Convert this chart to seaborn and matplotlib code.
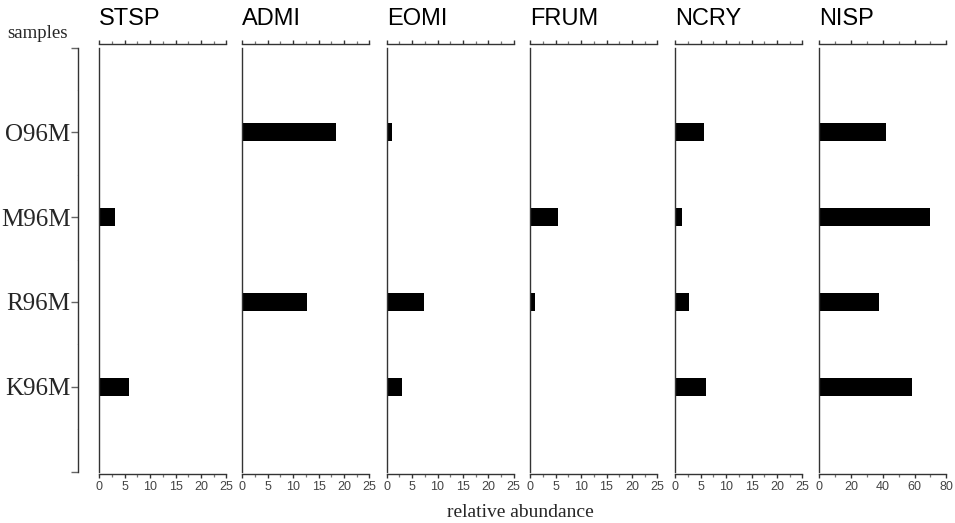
import matplotlib
matplotlib.use("Agg")
import matplotlib.pyplot as plt
import seaborn as sns
import pandas as pd
from matplotlib.ticker import MultipleLocator

samples = ["O96M", "M96M", "R96M", "K96M"]
taxa = ["STSP", "ADMI", "EOMI", "FRUM", "NCRY", "NISP"]
STSP = [0, 3.0, 0, 5.9]
ADMI = [18.4, 0, 12.8, 0]
EOMI = [1.0, 0, 7.3, 3.0]
FRUM = [0, 5.4, 1.0, 0]
NCRY = [5.6, 1.4, 2.7, 6.0]
NISP = [41.9, 69.9, 37.5, 58.7]
xmax = [25, 25, 25, 25, 25, 80]
major_step = [5, 5, 5, 5, 5, 20]

df = pd.DataFrame({"sample": samples, "STSP": STSP, "ADMI": ADMI, "EOMI": EOMI,
                   "FRUM": FRUM, "NCRY": NCRY, "NISP": NISP})

sns.set_style("ticks")
plt.rcParams["font.family"] = ["Liberation Sans", "DejaVu Sans"]

W, H = 955, 523
fig = plt.figure(figsize=(W / 100, H / 100), dpi=100)

top_px, bot_px = 44, 474
y0_px, step_px = 132.3, 84.8
ylim_top = (top_px - y0_px) / step_px
ylim_bot = (bot_px - y0_px) / step_px

def box(left_px, width_px):
    return [left_px / W, 1 - bot_px / H, width_px / W, (bot_px - top_px) / H]

lefts = [99.3, 242.3, 386.7, 530.3, 675.3, 819.3]
spine_col = "#333333"

for i, t in enumerate(taxa):
    ax = fig.add_axes(box(lefts[i], 127))
    sns.barplot(data=df, x=t, y="sample", order=samples, orient="h", color="black",
                width=0.21, linewidth=0, saturation=1, errorbar=None, ax=ax)
    ax.set_ylim(ylim_bot, ylim_top)
    ax.set_xlim(0, xmax[i])
    ax.set_xlabel("")
    ax.set_ylabel("")
    ax.set_yticks([])
    ax.spines["right"].set_visible(False)
    for s in ["left", "top", "bottom"]:
        ax.spines[s].set_color(spine_col)
        ax.spines[s].set_linewidth(1.0)
    ax.spines["left"].set_bounds(-1, 4)
    ax.xaxis.set_major_locator(MultipleLocator(major_step[i]))
    ax.xaxis.set_minor_locator(MultipleLocator(major_step[i] / 2))
    ax.tick_params(axis="x", which="major", direction="out", top=True, bottom=True,
                   length=3.2, width=1.0, color=spine_col, labelsize=9,
                   labelcolor="#444444", pad=2)
    ax.tick_params(axis="x", which="minor", direction="out", top=True, bottom=True,
                   length=2.3, width=0.9, color="#777777")
    fig.text(lefts[i] / W, 1 - 25 / H, t, fontsize=17, va="baseline", ha="left",
             color="black")

# sample axis
sax = fig.add_axes(box(78.3, 1))
sax.set_ylim(ylim_bot, ylim_top)
sax.set_xlim(0, 1)
for s in ["right", "top", "bottom"]:
    sax.spines[s].set_visible(False)
sax.spines["left"].set_bounds(-1, 4)
sax.spines["left"].set_color(spine_col)
sax.spines["left"].set_linewidth(1.0)
sax.set_xticks([])
sax.patch.set_alpha(0)
sax.set_yticks([-1, 0, 1, 2, 3, 4], [""] + samples + [""])
sax.set_yticks([-0.5, 0.5, 1.5, 2.5, 3.5], minor=True)
sax.tick_params(axis="y", which="major", direction="out", length=5, width=1.0,
                color="#666666", pad=0.5, labelsize=18)
sax.tick_params(axis="y", which="minor", direction="out", length=1.0, width=0.7,
                color="#e2e2e2")
for lab in sax.get_yticklabels():
    lab.set_fontfamily(["Liberation Serif", "DejaVu Serif"])

fig.text(7 / W, 1 - 38 / H, "samples", fontsize=13.5, va="baseline", ha="left",
         family=["Liberation Serif", "DejaVu Serif"])
fig.text(520 / W, 1 - 517 / H, "relative abundance", fontsize=14, va="baseline",
         ha="center", family=["Liberation Serif", "DejaVu Serif"])

fig.savefig("out.png", dpi=100)
